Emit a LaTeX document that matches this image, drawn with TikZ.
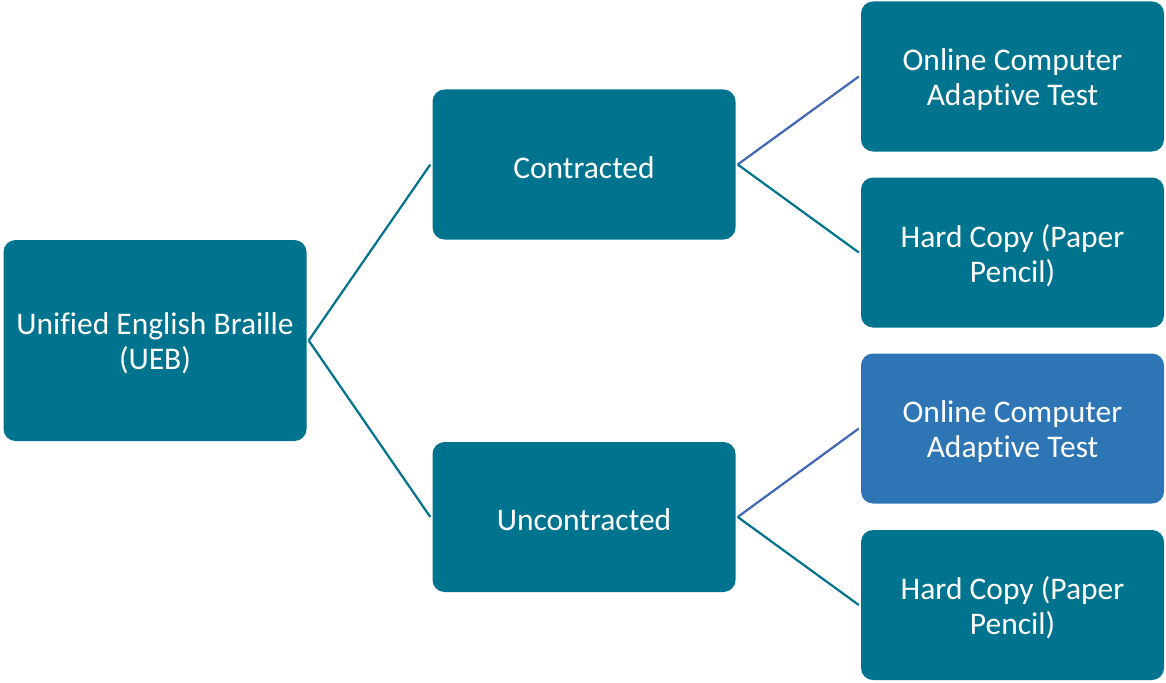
\documentclass[tikz,border=0pt]{standalone}
\usepackage{fontspec}
\setmainfont{Carlito}[Ligatures=NoCommon]
\definecolor{teal}{HTML}{00738F}
\definecolor{boxblue}{HTML}{2E75B6}
\definecolor{lineblue}{HTML}{4266B5}
\begin{document}
\begin{tikzpicture}[x=1pt,y=-1pt,
  box/.style={draw=none,fill=teal,rounded corners=12pt,
    minimum width=303pt,minimum height=150pt,inner sep=0pt},
  lbl/.style={text=white,align=center,inner sep=0pt,yshift=-3pt,
    font=\fontsize{31.5}{35}\selectfont},
  link/.style={draw=teal,line width=2.2pt},
  bluelink/.style={draw=lineblue,line width=2.2pt}]
\useasboundingbox (0,0) rectangle (1166,682);
\node[box,minimum height=201pt,label={[lbl]center:Unified English Braille\\(UEB)}] (ueb) at (155,340.5) {};
\node[box,label={[lbl]center:Contracted}] (con) at (584,164.5) {};
\node[box,label={[lbl]center:Uncontracted}] (unc) at (584,517) {};
\node[box,label={[lbl]center:Online Computer\\Adaptive Test}] (c1) at (1012.5,76.5) {};
\node[box,label={[lbl]center:Hard Copy (Paper\\Pencil)}] (c2) at (1012.5,252.5) {};
\node[box,fill=boxblue,label={[lbl]center:Online Computer\\Adaptive Test}] (u1) at (1012.5,428.5) {};
\node[box,label={[lbl]center:Hard Copy (Paper\\Pencil)}] (u2) at (1012.5,605) {};
\draw[link] ([xshift=2pt]ueb.east) -- ([xshift=-2pt]con.west);
\draw[link] ([xshift=2pt]ueb.east) -- ([xshift=-2pt]unc.west);
\draw[bluelink] ([xshift=2pt]con.east) -- ([xshift=-2pt]c1.west);
\draw[link] ([xshift=2pt]con.east) -- ([xshift=-2pt]c2.west);
\draw[bluelink] ([xshift=2pt]unc.east) -- ([xshift=-2pt]u1.west);
\draw[link] ([xshift=2pt]unc.east) -- ([xshift=-2pt]u2.west);
\end{tikzpicture}
\end{document}
